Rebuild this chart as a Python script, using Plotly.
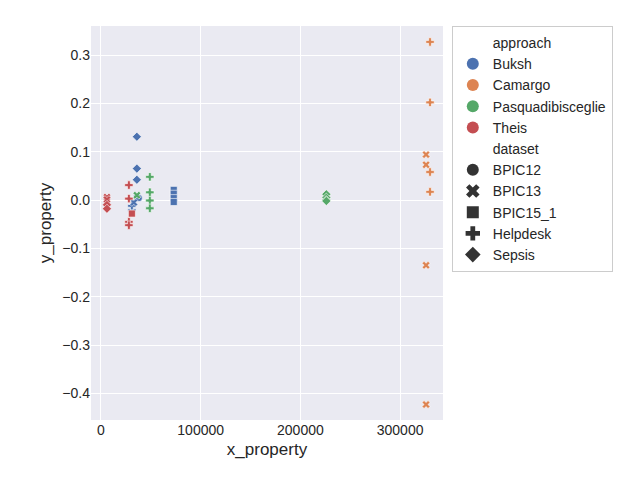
import plotly.graph_objects as go

# points per (approach, dataset): x values, y values
approaches = ["Buksh", "Camargo", "Pasquadibisceglie", "Theis"]
colors = {"Buksh": "#4c72b0", "Camargo": "#dd8452", "Pasquadibisceglie": "#55a868", "Theis": "#c44e52"}
datasets = ["BPIC12", "BPIC13", "BPIC15_1", "Helpdesk", "Sepsis"]
symbols = {"BPIC12": "circle", "BPIC13": "x", "BPIC15_1": "square", "Helpdesk": "cross", "Sepsis": "diamond"}

points = [
    ("Buksh", "Sepsis", [36000, 36000, 36000], [0.131, 0.065, 0.042]),
    ("Buksh", "BPIC15_1", [73000, 73000, 73000, 73000], [0.021, 0.013, 0.004, -0.004]),
    ("Buksh", "Helpdesk", [31000, 31000], [-0.021, -0.012]),
    ("Buksh", "BPIC12", [36000, 38000], [0.006, 0.004]),
    ("Buksh", "BPIC13", [33000], [-0.005]),
    ("Camargo", "Helpdesk", [330000, 330000, 330000, 330000], [0.327, 0.202, 0.058, 0.017]),
    ("Camargo", "BPIC13", [326000, 326000, 326000, 326000], [0.094, 0.073, -0.135, -0.423]),
    ("Pasquadibisceglie", "Sepsis", [226000, 226000, 226000, 226000], [0.012, 0.005, 0.0, -0.002]),
    ("Pasquadibisceglie", "Helpdesk", [49000, 49000, 49000, 49000], [0.048, 0.016, -0.001, -0.017]),
    ("Pasquadibisceglie", "BPIC13", [36000], [0.01]),
    ("Theis", "Helpdesk", [28000, 28000, 28000, 28000], [0.031, 0.003, -0.045, -0.052]),
    ("Theis", "BPIC13", [6000, 6000], [0.006, 0.001]),
    ("Theis", "Sepsis", [6000, 6000], [-0.01, -0.018]),
    ("Theis", "BPIC15_1", [31000], [-0.028]),
]

fig = go.Figure()
for appr, ds, xs, ys in points:
    fig.add_trace(go.Scatter(
        x=xs, y=ys, mode="markers", showlegend=False,
        marker=dict(symbol=symbols[ds], size=7, color=colors[appr], line=dict(color="white", width=0.6)),
    ))

def legend_entry(name, symbol, color, size=9):
    fig.add_trace(go.Scatter(x=[None], y=[None], mode="markers", name=name,
                             marker=dict(symbol=symbol, size=size, color=color)))

legend_entry("approach", "circle", "rgba(0,0,0,0)")
for a in approaches:
    legend_entry(a, "circle", colors[a])
legend_entry("dataset", "circle", "rgba(0,0,0,0)")
for d in datasets:
    legend_entry(d, symbols[d], "#333333")

fig.update_layout(
    width=640, height=480,
    paper_bgcolor="white", plot_bgcolor="#eaeaf2",
    font=dict(family="Liberation Sans, Arial", size=14, color="#262626"),
    margin=dict(l=83, r=205, t=18, b=68, autoexpand=False),
    legend=dict(x=1.025, y=1, xanchor="left", yanchor="top", bgcolor="white",
                bordercolor="#cccccc", borderwidth=1, font=dict(size=14), itemsizing="constant",
                tracegroupgap=0),
    xaxis=dict(title=dict(text="x_property", standoff=6), range=[-10000, 343000],
               tickvals=[0, 100000, 200000, 300000], tickformat="d", gridcolor="white",
               zeroline=False, ticks="", showline=False, automargin=False),
    yaxis=dict(title=dict(text="y_property", standoff=6), range=[-0.455, 0.36],
               tickvals=[-0.4, -0.3, -0.2, -0.1, 0, 0.1, 0.2, 0.3], tickformat=".1f",
               gridcolor="white", zeroline=False, ticks="", automargin=False),
)

fig.write_html("out.html")
